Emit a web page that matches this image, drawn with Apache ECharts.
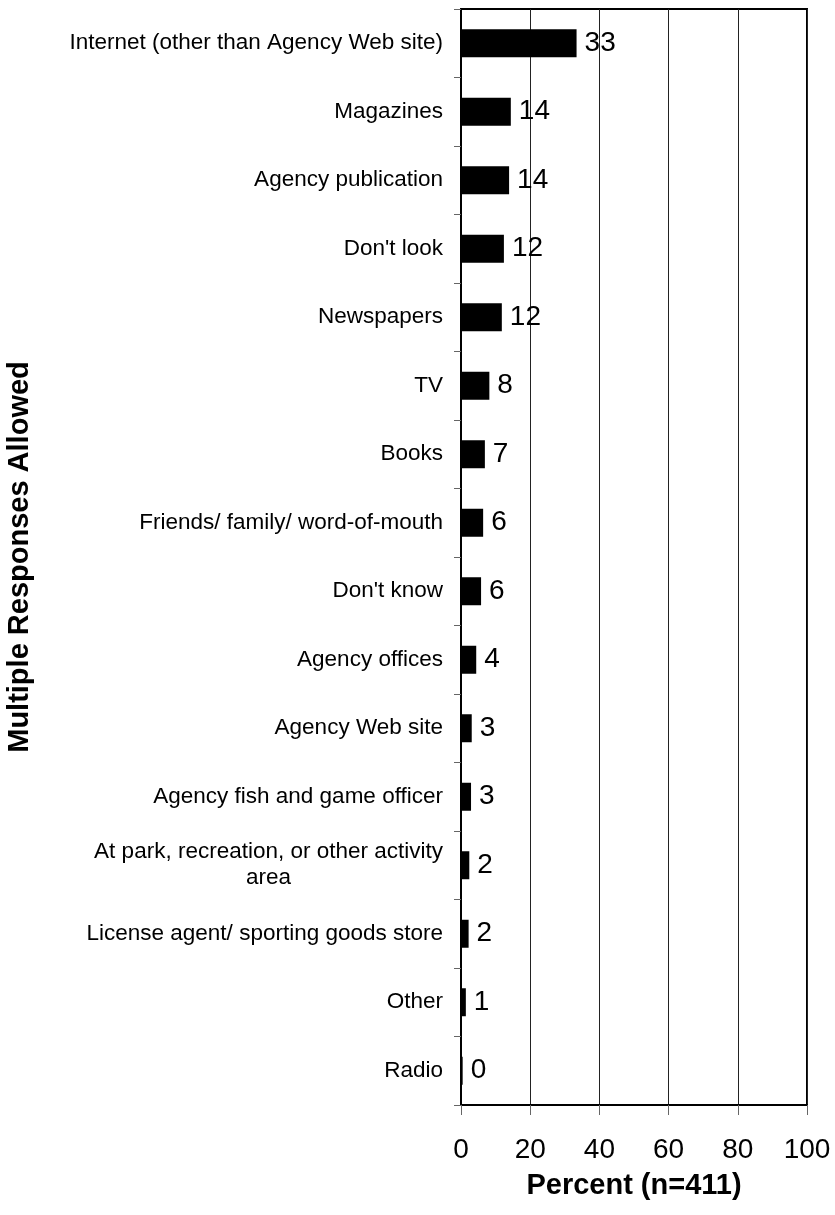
<!DOCTYPE html>
<html>
<head>
<meta charset="utf-8">
<script src="https://cdn.jsdelivr.net/npm/echarts@6/dist/echarts.min.js"></script>
<style>
html,body{margin:0;padding:0;background:#fff;}
#chart{width:835px;height:1215px;}
</style>
</head>
<body>
<div id="chart"></div>
<script>
const categories = [
  "Internet (other than Agency Web site)",
  "Magazines",
  "Agency publication",
  "Don't look",
  "Newspapers",
  "TV",
  "Books",
  "Friends/ family/ word-of-mouth",
  "Don't know",
  "Agency offices",
  "Agency Web site",
  "Agency fish and game officer",
  "At park, recreation, or other activity\narea",
  "License agent/ sporting goods store",
  "Other",
  "Radio"
];
const values = [33.4, 14.4, 13.9, 12.4, 11.8, 8.2, 6.9, 6.4, 5.8, 4.4, 3.1, 2.9, 2.4, 2.2, 1.4, 0.48];
const valueLabels = ["33", "14", "14", "12", "12", "8", "7", "6", "6", "4", "3", "3", "2", "2", "1", "0"];
const xTicks = [0, 20, 40, 60, 80, 100];

const FONT = "'Liberation Sans', Arial, sans-serif";
const chart = echarts.init(document.getElementById('chart'), null, {renderer: 'canvas'});
chart.setOption({
  animation: false,
  backgroundColor: '#fff',
  grid: {
    left: 461, top: 9, right: 28, bottom: 110,
    containLabel: false, outerBoundsMode: 'none',
    show: true, borderColor: '#000', borderWidth: 2, backgroundColor: 'transparent'
  },
  xAxis: {
    type: 'value',
    min: xTicks[0], max: xTicks[xTicks.length - 1], interval: 20,
    axisLine: {show: true, lineStyle: {color: '#000', width: 2}},
    axisTick: {show: true, length: 10, lineStyle: {color: '#666', width: 1}},
    splitLine: {show: true, lineStyle: {color: '#222', width: 1}},
    axisLabel: {fontFamily: FONT, fontSize: 28, color: '#000', margin: 31},
    name: 'Percent (n=411)',
    nameLocation: 'middle',
    nameGap: 66,
    nameTextStyle: {fontFamily: FONT, fontSize: 29, fontWeight: 'bold', color: '#000'}
  },
  yAxis: {
    type: 'category',
    data: categories,
    inverse: true,
    axisLine: {show: true, lineStyle: {color: '#000', width: 2}},
    axisTick: {show: true, length: 7, alignWithLabel: false, lineStyle: {color: '#666', width: 1}},
    splitLine: {show: false},
    axisLabel: {
      fontFamily: FONT, fontSize: 22.5, color: '#000', margin: 18, lineHeight: 26,
      formatter: function (v) {
        if (v.indexOf('\n') >= 0) {
          return v.split('\n').map(function (s) { return '{c|' + s + '}'; }).join('\n');
        }
        return v;
      },
      rich: {c: {align: 'center', fontFamily: FONT, fontSize: 22.5, color: '#000', lineHeight: 26}}
    },
    name: 'Multiple Responses Allowed',
    nameLocation: 'middle',
    nameRotate: 90,
    nameGap: 427,
    nameTextStyle: {fontFamily: FONT, fontSize: 29, fontWeight: 'bold', color: '#000'}
  },
  series: [{
    type: 'bar',
    data: values,
    barWidth: 28,
    itemStyle: {color: '#000'},
    label: {
      show: true, position: 'right', distance: 8,
      fontFamily: FONT, fontSize: 28, color: '#000',
      formatter: function (p) { return valueLabels[p.dataIndex]; }
    }
  }]
});
</script>
</body>
</html>
